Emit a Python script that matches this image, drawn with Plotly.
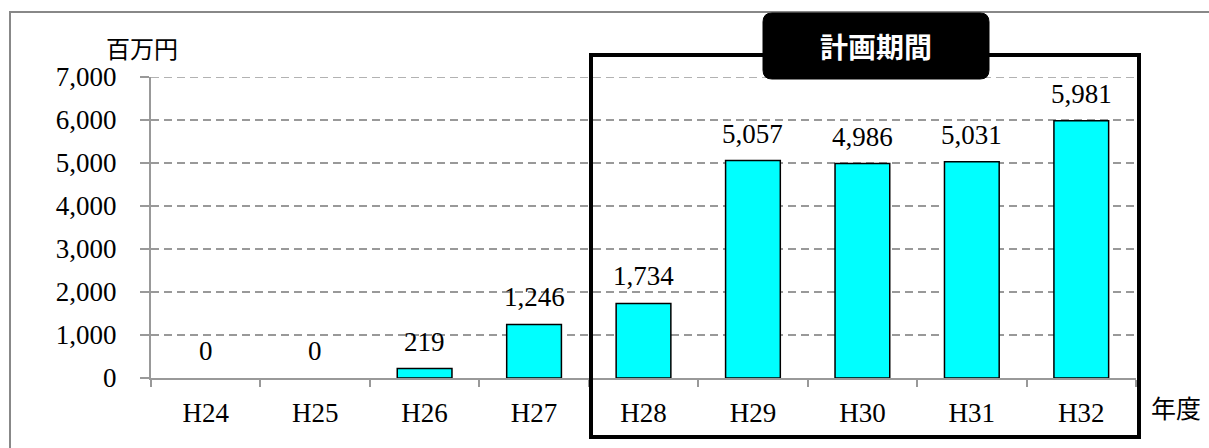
import plotly.graph_objects as go

# Fiscal years and amounts (million yen)
years = ["H24", "H25", "H26", "H27", "H28", "H29", "H30", "H31", "H32"]
amounts = [0, 0, 219, 1246, 1734, 5057, 4986, 5031, 5981]
y_ticks = [0, 1000, 2000, 3000, 4000, 5000, 6000, 7000]
y_tick_text = [f"{v:,}" for v in y_ticks]

W, H = 1209, 448
L, R, T, B = 151, 73, 77, 70
PW, PH = W - L - R, H - T - B


def px_x(px):
    return (px - L) / PW


def px_y(py):
    return (H - B - py) / PH


SERIF = "Liberation Serif"
GOTHIC = "Noto Sans CJK JP"

fig = go.Figure()
fig.add_trace(go.Bar(
    x=years, y=amounts, width=0.5,
    marker=dict(color="#00FFFF",
                line=dict(color="#000000",
                          width=[1.5 if v > 0 else 0 for v in amounts])),
    hoverinfo="skip",
))

annotations = []
for yr, v in zip(years, amounts):
    annotations.append(dict(
        x=yr, y=v, xref="x", yref="y", text=f"{v:,}", showarrow=False,
        yanchor="middle", yshift=27,
        font=dict(family=SERIF, size=27, color="#000000"),
    ))

annotations += [
    dict(x=px_x(142), y=px_y(47), xref="paper", yref="paper", text="百万円",
         showarrow=False, xanchor="center", yanchor="middle",
         font=dict(family=GOTHIC, size=24, color="#000000")),
    dict(x=px_x(1176), y=px_y(407), xref="paper", yref="paper", text="年度",
         showarrow=False, xanchor="center", yanchor="middle",
         font=dict(family=GOTHIC, size=25, color="#000000")),
    dict(x=px_x(876), y=px_y(46), xref="paper", yref="paper", text="<b>計画期間</b>",
         showarrow=False, xanchor="center", yanchor="middle",
         font=dict(family=GOTHIC, size=28, color="#FFFFFF")),
]

# Rounded label box (pixel path around its centre)
hw, hh, r = 113, 33, 9
rounded = (
    f"M {-hw + r},{-hh} L {hw - r},{-hh} Q {hw},{-hh} {hw},{-hh + r} "
    f"L {hw},{hh - r} Q {hw},{hh} {hw - r},{hh} "
    f"L {-hw + r},{hh} Q {-hw},{hh} {-hw},{hh - r} "
    f"L {-hw},{-hh + r} Q {-hw},{-hh} {-hw + r},{-hh} Z"
)

shapes = [
    # outer chart frame
    dict(type="rect", xref="paper", yref="paper",
         x0=px_x(10), x1=px_x(1215), y0=px_y(455), y1=px_y(12),
         line=dict(color="#888888", width=2), fillcolor="rgba(0,0,0,0)", layer="above"),
    # top gridline at the axis maximum
    dict(type="line", xref="paper", yref="y", x0=0, x1=1, y0=7000, y1=7000,
         line=dict(color="#999999", width=1.5, dash="8px,5px"), layer="below"),
    # planning period frame
    dict(type="rect", xref="paper", yref="paper",
         x0=px_x(591), x1=px_x(1139), y0=px_y(437), y1=px_y(55),
         line=dict(color="#000000", width=4), fillcolor="rgba(0,0,0,0)", layer="above"),
    # planning period label box
    dict(type="path", xref="paper", yref="paper", xsizemode="pixel", ysizemode="pixel",
         xanchor=px_x(876), yanchor=px_y(46), path=rounded,
         fillcolor="#000000", line=dict(color="#000000", width=1), layer="above"),
]

fig.update_layout(
    width=W, height=H,
    margin=dict(l=L, r=R, t=T, b=B, pad=0),
    paper_bgcolor="#FFFFFF", plot_bgcolor="#FFFFFF",
    showlegend=False,
    annotations=annotations,
    shapes=shapes,
    xaxis=dict(
        type="category", range=[-0.5, 8.5],
        showline=True, linecolor="#999999", linewidth=2,
        ticks="outside", ticklen=7, tickcolor="#999999", tickwidth=2,
        tickson="boundaries", showgrid=False,
        tickfont=dict(family=SERIF, size=27, color="#000000"),
        ticklabelstandoff=10,
    ),
    yaxis=dict(
        range=[0, 7000], tickvals=y_ticks, ticktext=y_tick_text,
        showline=True, linecolor="#999999", linewidth=2,
        ticks="outside", ticklen=9, tickcolor="#999999", tickwidth=2,
        showgrid=True, gridcolor="#999999", gridwidth=1.5, griddash="8px,5px",
        zeroline=False,
        tickfont=dict(family=SERIF, size=27, color="#000000"),
        ticklabelstandoff=18,
    ),
)

fig.write_html("out.html")
